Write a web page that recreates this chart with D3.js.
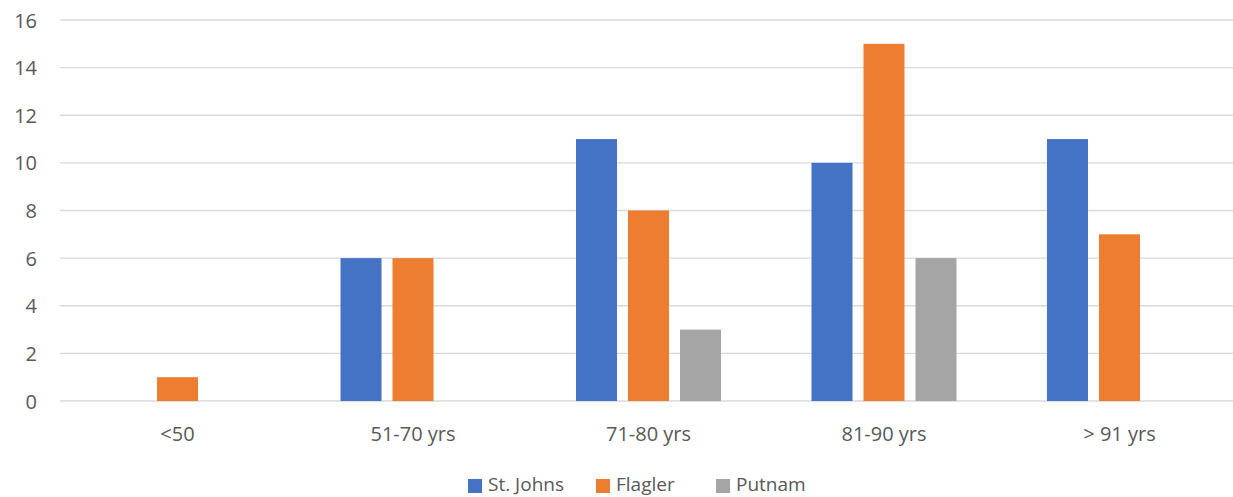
<!DOCTYPE html>
<html><head><meta charset="utf-8">
<script src="https://cdn.jsdelivr.net/npm/d3@7"></script>
<style>
html,body{margin:0;padding:0;background:#fff;}
text{font-family:"Open Sans",sans-serif;fill:#595959;}
</style></head>
<body><svg id="c" width="1233" height="497"></svg>
<script>
const categories = ["<50", "51-70 yrs", "71-80 yrs", "81-90 yrs", "> 91 yrs"];
const seriesNames = ["St. Johns", "Flagler", "Putnam"];
const stJohns = [0, 6, 11, 10, 11];
const flagler = [1, 6, 8, 15, 7];
const putnam = [0, 0, 3, 6, 0];
const yTicks = [0, 2, 4, 6, 8, 10, 12, 14, 16];
const colors = ["#4472C4", "#ED7D31", "#A5A5A5"];

const seriesValues = [stJohns, flagler, putnam];
const svg = d3.select("#c");
const fs = 20;

const x0 = d3.scaleBand().domain(categories).range([59.75, 1237.25]).paddingInner(0).paddingOuter(0);
const groupW = 145;
const x1 = d3.scaleBand().domain(seriesNames).range([0, groupW]).paddingInner(0.2115).paddingOuter(0);
const y = d3.scaleLinear().domain([0, 16]).range([401, 20]);

// gridlines
svg.append("g").selectAll("line").data(yTicks).join("line")
  .attr("x1", 60).attr("x2", 1233)
  .attr("y1", d => y(d)).attr("y2", d => y(d))
  .attr("stroke", "#D9D9D9").attr("stroke-width", 1.3);

// y axis labels
const yAxis = d3.axisLeft(y).tickValues(yTicks).tickSize(0).tickPadding(0);
const ya = svg.append("g").attr("transform", "translate(37,0)").call(yAxis);
ya.select(".domain").remove();
ya.selectAll("text").attr("font-size", fs).attr("font-family", "Open Sans").attr("fill", "#595959").attr("dy", "0.35em");

// bars
const groups = svg.append("g").selectAll("g").data(categories).join("g")
  .attr("transform", c => `translate(${x0(c) + x0.bandwidth()/2 - groupW/2},0)`);
groups.selectAll("rect").data((c, i) => seriesNames.map((s, j) => ({s, j, v: seriesValues[j][i]})))
  .join("rect")
  .attr("x", d => x1(d.s))
  .attr("width", x1.bandwidth())
  .attr("y", d => y(d.v))
  .attr("height", d => y(0) - y(d.v))
  .attr("fill", d => colors[d.j]);

// x axis labels
const xAxis = d3.axisBottom(x0).tickSize(0).tickPadding(0);
const xa = svg.append("g").attr("transform", "translate(0,434)").call(xAxis);
xa.select(".domain").remove();
xa.selectAll("text").attr("font-size", fs).attr("font-family", "Open Sans").attr("fill", "#595959").attr("dy", "0.35em");

// legend
const legendX = [468, 596, 716];
const lg = svg.append("g").selectAll("g").data(seriesNames).join("g")
  .attr("transform", (d, i) => `translate(${legendX[i]},484)`);
lg.append("rect").attr("x", 0).attr("y", -5).attr("width", 14).attr("height", 14).attr("fill", (d, i) => colors[i]);
lg.append("text").attr("x", 20).attr("dy", "0.35em").attr("font-size", 19).text(d => d);
</script></body></html>
